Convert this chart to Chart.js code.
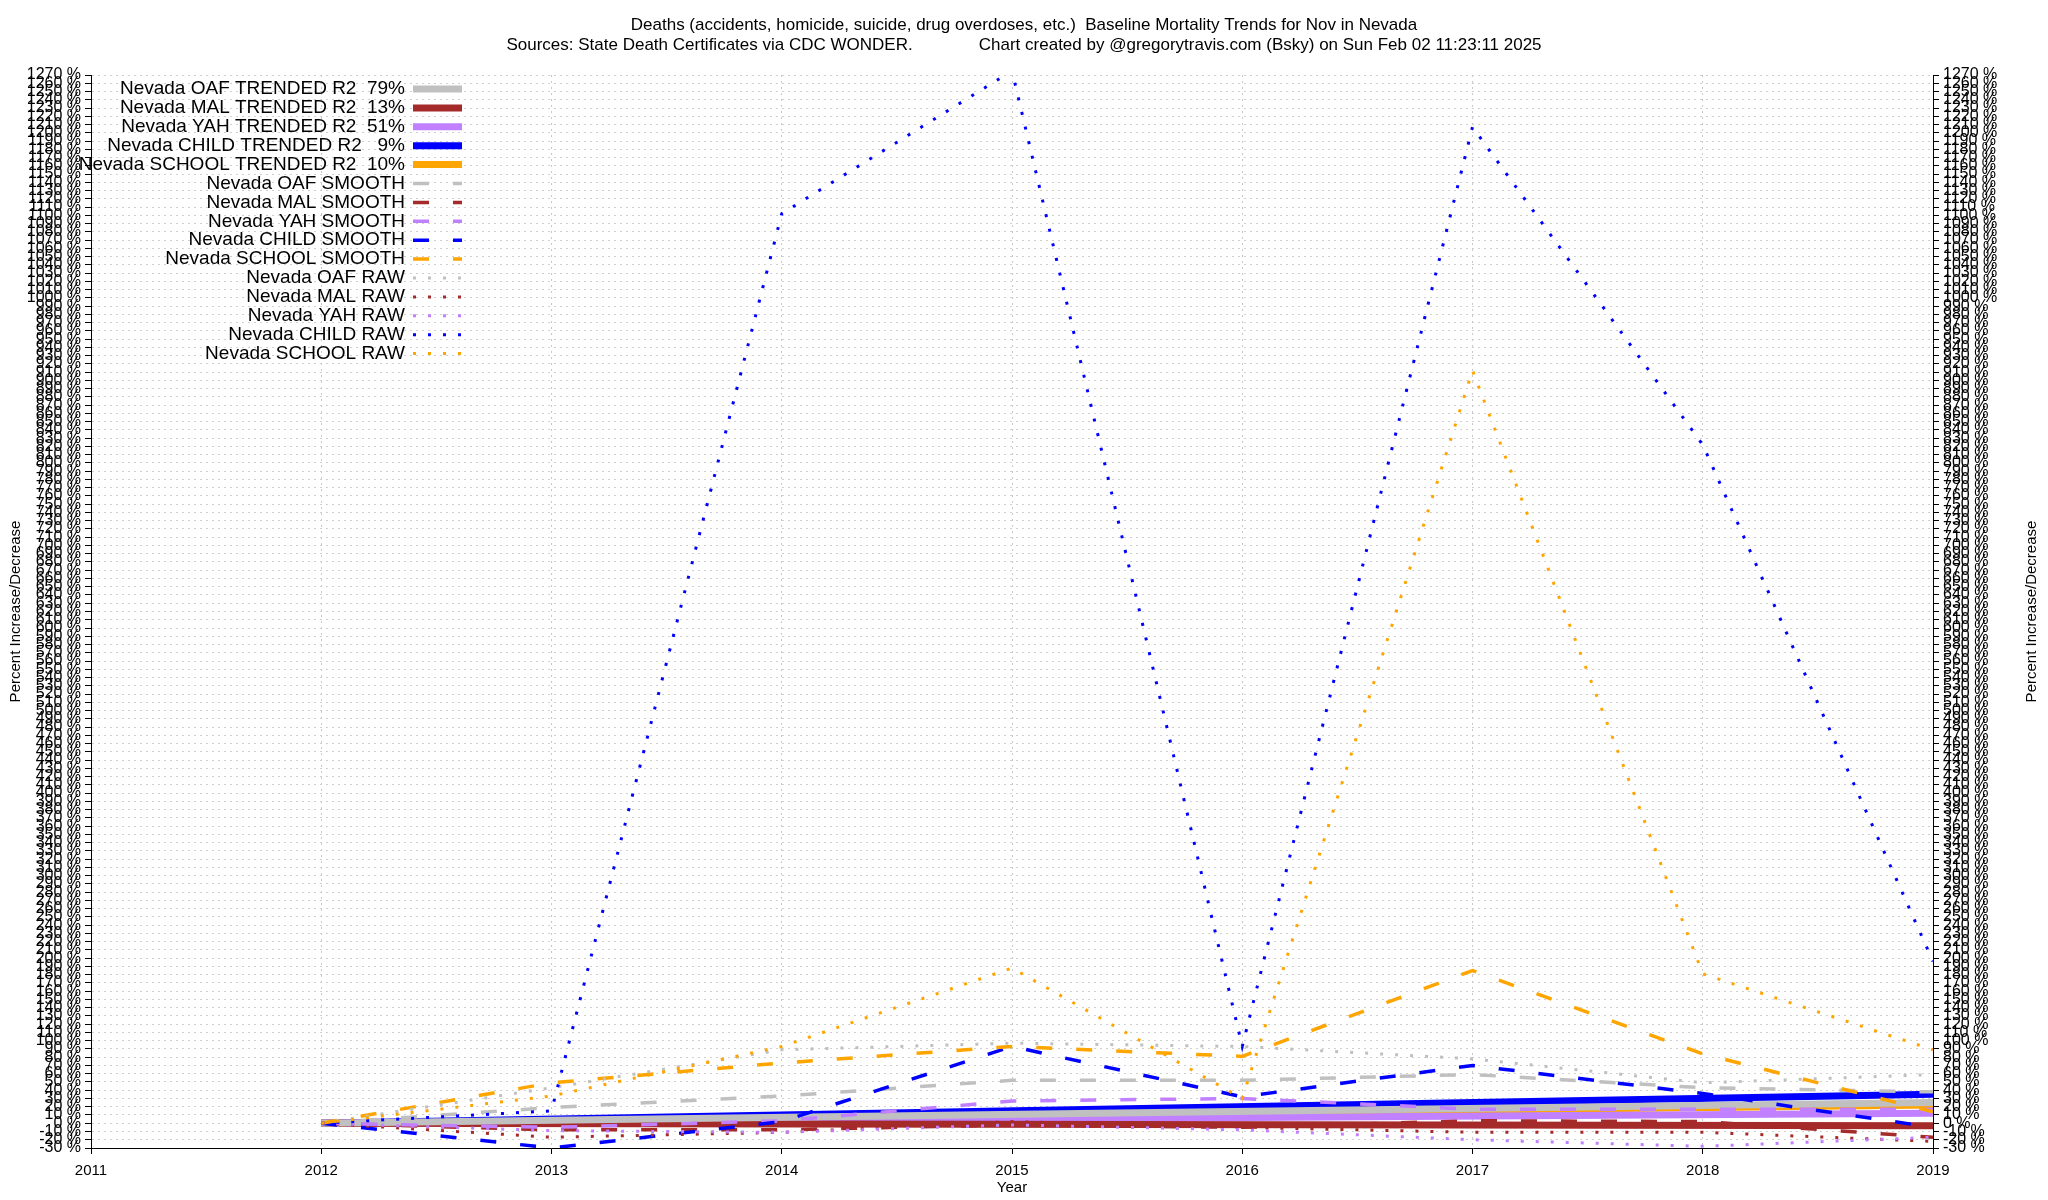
<!DOCTYPE html>
<html>
<head>
<meta charset="utf-8">
<script src="https://cdn.jsdelivr.net/npm/chart.js@4/dist/chart.umd.min.js"></script>
<style>
  html, body { margin: 0; padding: 0; background: #fff; }
  #wrap { width: 2048px; height: 1200px; position: relative; }
</style>
</head>
<body>
<div id="wrap"><canvas id="c" width="2048" height="1200"></canvas></div>
<script>
// Années (axe X)
const years = [2012, 2013, 2014, 2015, 2016, 2017, 2018, 2019];

// Tendances (droites) : début et fin
const oafTrend = [0, 25];
const malTrend = [0, -3];
const yahTrend = [0, 12];
const childTrend = [0, 35];
const schoolTrend = [0, 22];

// Séries lissées
const oafSmooth = [0, 19, 33, 52, 52, 59, 43, 38];
const malSmooth = [0, -8, -8, -2, -5, 3, 2, -17];
const yahSmooth = [0, -5, 3, 27, 30, 17, 17, 17];
const childSmooth = [0, -30, 2, 93, 32, 70, 36, -5];
const schoolSmooth = [0, 49, 73, 93, 81, 185, 84, 14];

// Séries brutes
const oafRaw = [0, 43, 89, 97, 93, 78, 49, 59];
const malRaw = [0, -17, -11, 2, -5, -11, -11, -22];
const yahRaw = [0, -9, -11, -2, -8, -20, -28, -17];
const childRaw = [0, 15, 1102, 1275, 93, 1207, 822, 196];
const schoolRaw = [0, 33, 93, 188, 30, 912, 181, 89];

const xTicks = [2011, 2012, 2013, 2014, 2015, 2016, 2017, 2018, 2019];

const colors = { OAF: '#c0c0c0', MAL: '#a52a2a', YAH: '#c080ff', CHILD: '#0000ff', SCHOOL: '#ffa500' };

const toPts = (arr) => arr.map((v, i) => ({ x: years[i], y: v }));
const trendPts = (arr) => [{ x: years[0], y: arr[0] }, { x: years[years.length - 1], y: arr[1] }];

const series = [
  { label: 'Nevada OAF TRENDED R2  79%', data: trendPts(oafTrend), color: colors.OAF, kind: 'trend' },
  { label: 'Nevada MAL TRENDED R2  13%', data: trendPts(malTrend), color: colors.MAL, kind: 'trend' },
  { label: 'Nevada YAH TRENDED R2  51%', data: trendPts(yahTrend), color: colors.YAH, kind: 'trend' },
  { label: 'Nevada CHILD TRENDED R2   9%', data: trendPts(childTrend), color: colors.CHILD, kind: 'trend' },
  { label: 'Nevada SCHOOL TRENDED R2  10%', data: trendPts(schoolTrend), color: colors.SCHOOL, kind: 'trend' },
  { label: 'Nevada OAF SMOOTH', data: toPts(oafSmooth), color: colors.OAF, kind: 'smooth' },
  { label: 'Nevada MAL SMOOTH', data: toPts(malSmooth), color: colors.MAL, kind: 'smooth' },
  { label: 'Nevada YAH SMOOTH', data: toPts(yahSmooth), color: colors.YAH, kind: 'smooth' },
  { label: 'Nevada CHILD SMOOTH', data: toPts(childSmooth), color: colors.CHILD, kind: 'smooth' },
  { label: 'Nevada SCHOOL SMOOTH', data: toPts(schoolSmooth), color: colors.SCHOOL, kind: 'smooth' },
  { label: 'Nevada OAF RAW', data: toPts(oafRaw), color: colors.OAF, kind: 'raw' },
  { label: 'Nevada MAL RAW', data: toPts(malRaw), color: colors.MAL, kind: 'raw' },
  { label: 'Nevada YAH RAW', data: toPts(yahRaw), color: colors.YAH, kind: 'raw' },
  { label: 'Nevada CHILD RAW', data: toPts(childRaw), color: colors.CHILD, kind: 'raw' },
  { label: 'Nevada SCHOOL RAW', data: toPts(schoolRaw), color: colors.SCHOOL, kind: 'raw' }
];

const styles = {
  trend: { width: 7, dash: [] },
  smooth: { width: 3.5, dash: [16, 24] },
  raw: { width: 3, dash: [3, 12] }
};

// ordre de dessin : tendances dessous (OAF par-dessus les autres tendances), brutes dessus
const drawOrder = (s, i) => s.kind === 'trend' ? 100 + i : series.length - i;

const FONT = '"Liberation Sans", Arial, sans-serif';

// Légende façon gnuplot + titres
const gnuplotDeco = {
  id: 'gnuplotDeco',
  afterDraw(chart) {
    const ctx = chart.ctx;
    const a = chart.chartArea;
    ctx.save();
    ctx.fillStyle = '#000';
    ctx.font = '17px ' + FONT;
    ctx.textAlign = 'center';
    ctx.textBaseline = 'middle';
    ctx.fillText('Deaths (accidents, homicide, suicide, drug overdoses, etc.)  Baseline Mortality Trends for Nov in Nevada', 1024, 25);
    ctx.fillText('Sources: State Death Certificates via CDC WONDER.              Chart created by @gregorytravis.com (Bsky) on Sun Feb 02 11:23:11 2025', 1024, 45);
    ctx.font = '15px ' + FONT;
    ctx.fillText('Year', (a.left + a.right) / 2, 1188);
    ctx.save();
    ctx.translate(16, (a.top + a.bottom) / 2);
    ctx.rotate(-Math.PI / 2);
    ctx.fillText('Percent Increase/Decrease', 0, 0);
    ctx.restore();
    ctx.save();
    ctx.translate(2032, (a.top + a.bottom) / 2);
    ctx.rotate(-Math.PI / 2);
    ctx.fillText('Percent Increase/Decrease', 0, 0);
    ctx.restore();

    // Légende
    ctx.font = '19px ' + FONT;
    ctx.textAlign = 'right';
    series.forEach((s, i) => {
      const y = 89 + i * 18.9;
      ctx.fillStyle = '#000';
      ctx.fillText(s.label, 405, y);
      const st = styles[s.kind];
      ctx.strokeStyle = s.color;
      ctx.lineWidth = st.width;
      ctx.setLineDash(st.dash);
      ctx.beginPath();
      ctx.moveTo(413, y);
      ctx.lineTo(462, y);
      ctx.stroke();
    });
    ctx.setLineDash([]);
    ctx.restore();
  }
};

const yTickOpts = {
  stepSize: 10,
  autoSkip: false,
  font: { family: FONT, size: 16 },
  color: '#000',
  padding: 4,
  callback: (v) => v + ' %'
};

new Chart(document.getElementById('c'), {
  type: 'line',
  data: {
    datasets: series.map((s, i) => ({
      label: s.label,
      data: s.data,
      borderColor: s.color,
      backgroundColor: s.color,
      borderWidth: styles[s.kind].width,
      borderDash: styles[s.kind].dash,
      pointRadius: 0,
      tension: 0,
      fill: false,
      order: drawOrder(s, i)
    }))
  },
  options: {
    responsive: false,
    animation: false,
    layout: { padding: { top: 75, left: 0, right: 0, bottom: 0 } },
    plugins: { legend: { display: false }, tooltip: { enabled: false } },
    scales: {
      x: {
        type: 'linear',
        min: 2011,
        max: 2019,
        afterBuildTicks: (sc) => { sc.ticks = xTicks.map(v => ({ value: v })); },
        ticks: { font: { family: FONT, size: 15 }, color: '#000', callback: (v) => String(v), padding: 8 },
        grid: { color: '#c8c8c8', tickColor: '#000', tickLength: 6 },
        border: { color: '#000', dash: [2, 4] },
        afterFit: (sc) => { sc.height = 52; }
      },
      y: {
        position: 'left',
        min: -30,
        max: 1270,
        ticks: yTickOpts,
        grid: { color: '#d0d0d0', tickColor: '#000', tickLength: 6 },
        border: { color: '#000', dash: [2, 4] },
        afterFit: (sc) => { sc.width = 91; }
      },
      y2: {
        position: 'right',
        min: -30,
        max: 1270,
        ticks: yTickOpts,
        grid: { drawOnChartArea: false, tickColor: '#000', tickLength: 6 },
        border: { color: '#000' },
        afterFit: (sc) => { sc.width = 115; }
      }
    }
  },
  plugins: [gnuplotDeco]
});
</script>
</body>
</html>
